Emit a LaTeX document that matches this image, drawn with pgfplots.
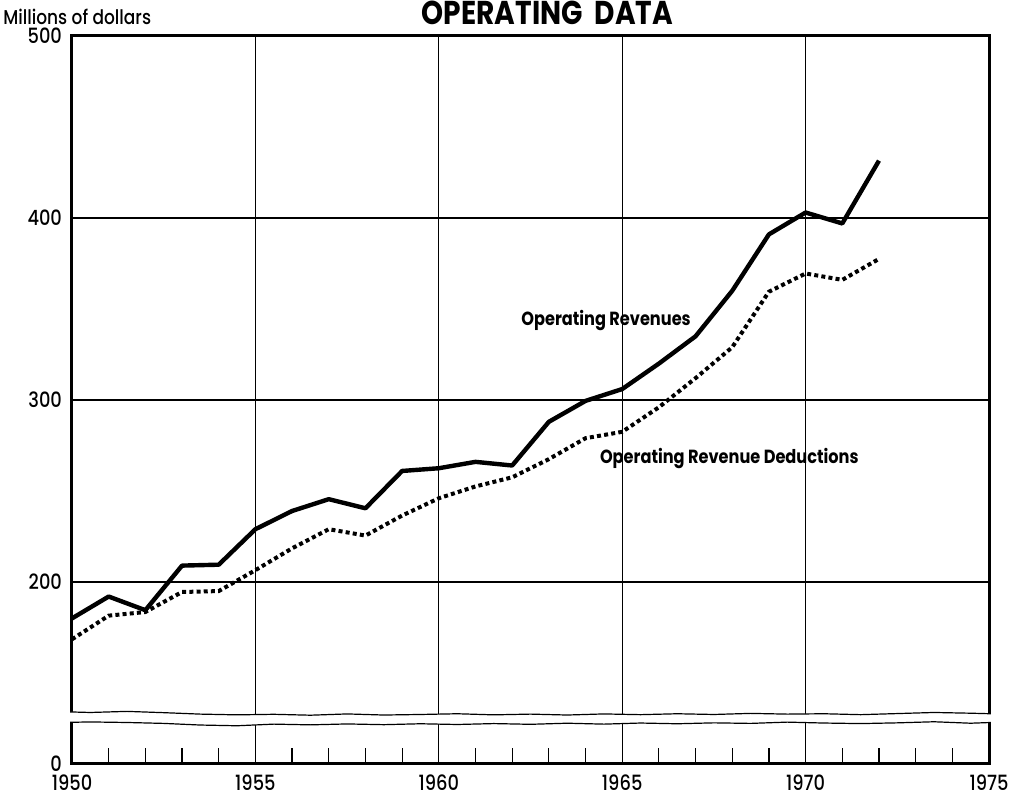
\documentclass[border=0pt]{standalone}
\usepackage{fontspec}
\setmainfont{Poppins}[FakeStretch=0.85]
\newfontfamily\medfont{Poppins Medium}[FakeStretch=0.85]
\usepackage{pgfplots}
\pgfplotsset{compat=1.18}
\begin{document}
\begin{tikzpicture}
\begin{axis}[name=ax, at={(0,0)}, anchor=south west,
  scale only axis, width=458.5pt, height=364pt,
  xmin=1950, xmax=1975, ymin=100, ymax=500,
  xtick={1950,1955,1960,1965,1970,1975},
  xticklabels={1950,1955,1960,1965,1970,1975},
  minor x tick num=4,
  ytick={100,200,300,400,500}, yticklabels={0,200,300,400,500},
  grid=major, major grid style={black, line width=0.6pt},
  major tick length=0pt, minor tick length=8pt, tick align=inside,
  xtick pos=bottom, ytick pos=left,
  minor tick style={black, line width=0.6pt},
  axis line style={black, line width=1.5pt},
  clip=false,
  /pgf/number format/assume math mode=true,
  ticklabel style={font=\medfont\fontsize{10.5}{12}\selectfont},
  x tick label style={yshift=-2pt},
  y tick label style={xshift=-1.5pt},
]
\addplot[black, line width=2.2pt, line join=round] table {
1950 180
1951 192
1952 184.5
1953 209
1954 209.5
1955 229
1956 239
1957 245.5
1958 240.5
1959 261
1960 262.5
1961 266
1962 264
1963 288
1964 299.5
1965 306
1966 320
1967 335
1968 360
1969 391
1970 403
1971 397
1972 431.5
};
\addplot[black, line width=2pt, dash pattern=on 2pt off 1.6pt] table {
1950 168.5
1951 181.5
1952 183.5
1953 194.5
1954 195
1955 206.5
1956 218.5
1957 229
1958 225.5
1959 236.5
1960 246
1961 252.5
1962 257.5
1963 267.5
1964 279
1965 282.5
1966 296
1967 312
1968 329
1969 359.5
1970 369.5
1971 366
1972 377.5
};
% axis break
\fill[white] (axis cs:1949.95,128.6) -- (axis cs:1950.5,128.3) -- (axis cs:1951.5,128.9) -- (axis cs:1952.5,128.2) -- (axis cs:1953.5,127.4) -- (axis cs:1954.5,127.0) -- (axis cs:1955.5,127.3) -- (axis cs:1956.5,126.8) -- (axis cs:1957.5,127.5) -- (axis cs:1958.5,126.9) -- (axis cs:1959.5,127.2) -- (axis cs:1960.5,127.6) -- (axis cs:1961.5,127.0) -- (axis cs:1962.5,127.4) -- (axis cs:1963.5,126.9) -- (axis cs:1964.5,127.5) -- (axis cs:1965.5,127.1) -- (axis cs:1966.5,127.6) -- (axis cs:1967.5,127.2) -- (axis cs:1968.5,127.8) -- (axis cs:1969.5,127.4) -- (axis cs:1970.5,127.6) -- (axis cs:1971.5,127.1) -- (axis cs:1972.5,127.7) -- (axis cs:1973.5,128.3) -- (axis cs:1974.5,127.9) -- (axis cs:1975.05,127.6)
 -- (axis cs:1975.05,122.8) -- (axis cs:1974.5,122.4) -- (axis cs:1973.5,123.2) -- (axis cs:1972.5,122.6) -- (axis cs:1971.5,122.2) -- (axis cs:1970.5,122.5) -- (axis cs:1969.5,123.0) -- (axis cs:1968.5,122.3) -- (axis cs:1967.5,122.6) -- (axis cs:1966.5,122.1) -- (axis cs:1965.5,122.5) -- (axis cs:1964.5,121.9) -- (axis cs:1963.5,122.4) -- (axis cs:1962.5,121.8) -- (axis cs:1961.5,122.2) -- (axis cs:1960.5,121.7) -- (axis cs:1959.5,122.1) -- (axis cs:1958.5,121.6) -- (axis cs:1957.5,122.0) -- (axis cs:1956.5,121.5) -- (axis cs:1955.5,121.9) -- (axis cs:1954.5,121.0) -- (axis cs:1953.5,121.4) -- (axis cs:1952.5,122.3) -- (axis cs:1951.5,122.8) -- (axis cs:1950.5,123.1) -- (axis cs:1949.95,122.9) -- cycle;
\draw[black, line width=0.6pt] (axis cs:1949.95,128.6) -- (axis cs:1950.5,128.3) -- (axis cs:1951.5,128.9) -- (axis cs:1952.5,128.2) -- (axis cs:1953.5,127.4) -- (axis cs:1954.5,127.0) -- (axis cs:1955.5,127.3) -- (axis cs:1956.5,126.8) -- (axis cs:1957.5,127.5) -- (axis cs:1958.5,126.9) -- (axis cs:1959.5,127.2) -- (axis cs:1960.5,127.6) -- (axis cs:1961.5,127.0) -- (axis cs:1962.5,127.4) -- (axis cs:1963.5,126.9) -- (axis cs:1964.5,127.5) -- (axis cs:1965.5,127.1) -- (axis cs:1966.5,127.6) -- (axis cs:1967.5,127.2) -- (axis cs:1968.5,127.8) -- (axis cs:1969.5,127.4) -- (axis cs:1970.5,127.6) -- (axis cs:1971.5,127.1) -- (axis cs:1972.5,127.7) -- (axis cs:1973.5,128.3) -- (axis cs:1974.5,127.9) -- (axis cs:1975.05,127.6);
\draw[black, line width=0.6pt] (axis cs:1975.05,122.8) -- (axis cs:1974.5,122.4) -- (axis cs:1973.5,123.2) -- (axis cs:1972.5,122.6) -- (axis cs:1971.5,122.2) -- (axis cs:1970.5,122.5) -- (axis cs:1969.5,123.0) -- (axis cs:1968.5,122.3) -- (axis cs:1967.5,122.6) -- (axis cs:1966.5,122.1) -- (axis cs:1965.5,122.5) -- (axis cs:1964.5,121.9) -- (axis cs:1963.5,122.4) -- (axis cs:1962.5,121.8) -- (axis cs:1961.5,122.2) -- (axis cs:1960.5,121.7) -- (axis cs:1959.5,122.1) -- (axis cs:1958.5,121.6) -- (axis cs:1957.5,122.0) -- (axis cs:1956.5,121.5) -- (axis cs:1955.5,121.9) -- (axis cs:1954.5,121.0) -- (axis cs:1953.5,121.4) -- (axis cs:1952.5,122.3) -- (axis cs:1951.5,122.8) -- (axis cs:1950.5,123.1) -- (axis cs:1949.95,122.9);
\node[font=\bfseries\fontsize{9.5}{12}\selectfont] at (axis cs:1964.56,343.8) {Operating Revenues};
\node[font=\bfseries\fontsize{9.5}{12}\selectfont] at (axis cs:1967.92,267.8) {Operating Revenue Deductions};
\end{axis}
\node[anchor=base west, inner sep=0pt, font=\medfont\fontsize{10}{12}\selectfont] at ([xshift=-34.5pt,yshift=5.5pt]ax.north west) {Millions of dollars};
\node[anchor=base, inner sep=0pt, font=\bfseries\fontsize{16.5}{19}\selectfont] at ([xshift=8.5pt,yshift=5.5pt]ax.north) {OPERATING\ \ DATA};
\pgfresetboundingbox
\path ([xshift=-36pt,yshift=-17pt]ax.south west) rectangle ([xshift=13pt,yshift=18pt]ax.north east);
\end{tikzpicture}
\end{document}
